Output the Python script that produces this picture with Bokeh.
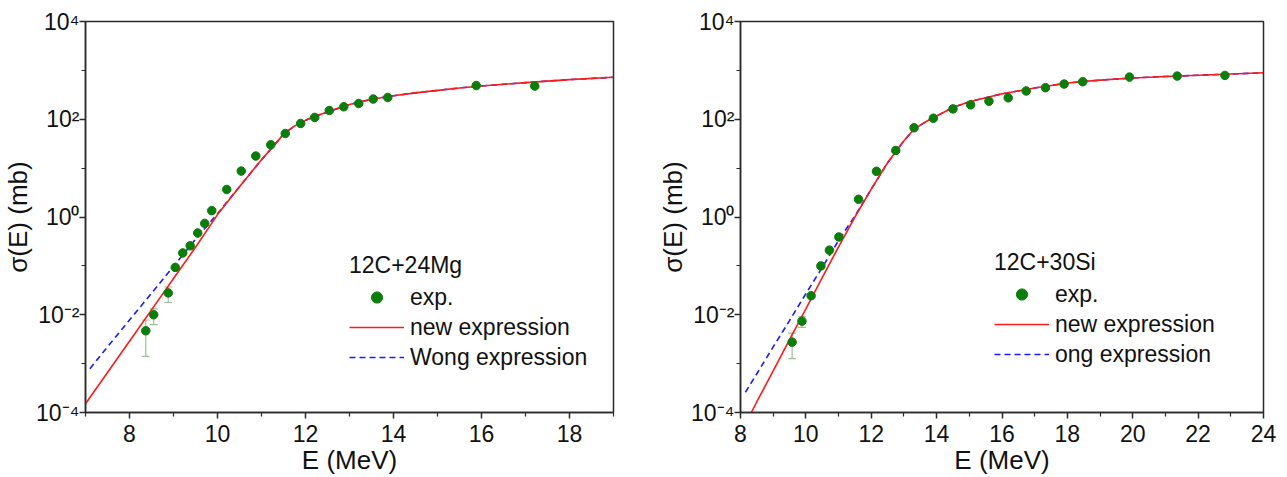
from bokeh.plotting import figure
from bokeh.models import (ColumnDataSource, Whisker, TeeHead, FixedTicker,
                          CustomJSTickFormatter, Legend, LegendItem, Range1d)
from bokeh.layouts import row
from bokeh.embed import file_html
from bokeh.resources import INLINE

# ---------------- Left panel: 12C+24Mg ----------------
mg_title = "12C+24Mg"
mg_exp_E = [8.37, 8.55, 8.88, 9.04, 9.21, 9.38, 9.55, 9.71, 9.87, 10.21, 10.54,
            10.87, 11.21, 11.54, 11.89, 12.21, 12.54, 12.87, 13.21, 13.54, 13.87,
            15.88, 17.21]
mg_exp_sigma = [4.7e-3, 1.0e-2, 2.8e-2, 0.093, 0.184, 0.257, 0.47, 0.74, 1.35, 3.66, 8.7,
                17.7, 30, 51, 82, 109, 151, 180, 210, 259, 279,
                490, 477]
mg_err_E = [8.37, 8.55, 8.88]
mg_err_hi = [7.8e-3, 1.32e-2, 3.7e-2]
mg_err_lo = [1.41e-3, 6.3e-3, 1.78e-2]
mg_new_E = [7.0, 7.5, 8.0, 8.5, 9.0, 9.5, 10.0, 10.5, 11.0, 11.25, 11.5, 11.75, 12.0,
            12.25, 12.5, 13.0, 13.5, 14.0, 14.5, 15.0, 15.5, 16.0, 17.0, 18.0, 19.0]
mg_new_sigma = [1.51e-4, 6.6e-4, 2.88e-3, 1.26e-2, 0.055, 0.24, 1.12, 4.17, 14.8, 26.9,
                49.0, 73.0, 95.0, 118, 141, 200, 257, 302, 347, 389, 437, 479, 562, 646, 724]
mg_wong_E = [7.1, 7.5, 8.0, 8.5, 9.0, 9.5, 10.0, 10.5, 11.0, 11.25, 11.5, 11.75, 12.0,
             12.25, 12.5, 13.0, 13.5, 14.0, 14.5, 15.0, 15.5, 16.0, 17.0, 18.0, 19.0]
mg_wong_sigma = [7.9e-4, 2.2e-3, 7.8e-3, 0.0275, 0.098, 0.35, 1.17, 4.17, 14.8, 26.9,
                 49.0, 73.0, 95.0, 118, 141, 200, 257, 302, 347, 389, 437, 479, 562, 646, 724]
mg_x_ticks = [8, 10, 12, 14, 16, 18]
mg_x_minor = [7, 9, 11, 13, 15, 17, 19]

# ---------------- Right panel: 12C+30Si ----------------
si_title = "12C+30Si"
si_exp_E = [9.58, 9.88, 10.16, 10.46, 10.72, 11.01, 11.61, 12.16, 12.75, 13.31, 13.90,
            14.50, 15.04, 15.60, 16.19, 16.74, 17.33, 17.90, 18.47, 19.90, 21.36, 22.82]
si_exp_sigma = [2.75e-3, 7.4e-3, 0.0245, 0.1, 0.21, 0.39, 2.3, 8.6, 23, 67, 105,
                163, 197, 234, 274, 379, 443, 525, 586, 729, 764, 789]
si_err_E = [9.58, 9.88]
si_err_hi = [4.2e-3, 9.1e-3]
si_err_lo = [1.26e-3, 5.5e-3]
si_new_E = [8.3, 8.5, 9.0, 9.5, 10.0, 10.5, 11.0, 11.5, 12.0, 12.5, 13.0, 13.25, 13.5,
            13.75, 14.0, 14.5, 15.0, 16.0, 17.0, 18.0, 19.0, 20.0, 21.0, 22.0, 23.0, 24.0]
si_new_sigma = [9.1e-5, 1.66e-4, 7.1e-4, 3.09e-3, 0.0132, 0.0575, 0.245, 1.0, 3.72, 12.9,
                36.3, 56.2, 75.9, 95.5, 117, 174, 229, 331, 437, 550, 631, 700, 750,
                794, 841, 891]
si_wong_E = [8.15, 8.5, 9.0, 9.5, 10.0, 10.5, 11.0, 11.5, 12.0, 12.5, 13.0, 13.25, 13.5,
             13.75, 14.0, 14.5, 15.0, 16.0, 17.0, 18.0, 19.0, 20.0, 21.0, 22.0, 23.0, 24.0]
si_wong_sigma = [2.6e-4, 6.2e-4, 2.2e-3, 7.6e-3, 0.027, 0.093, 0.33, 1.05, 3.72, 12.9,
                 36.3, 56.2, 75.9, 95.5, 117, 174, 229, 331, 437, 550, 631, 700, 750,
                 794, 841, 891]
si_x_ticks = [8, 10, 12, 14, 16, 18, 20, 22, 24]
si_x_minor = [9, 11, 13, 15, 17, 19, 21, 23]

y_ticks = [1e-4, 1e-2, 1, 1e2, 1e4]
y_minor = [1e-3, 1e-1, 10, 1e3]
legend_labels = ["exp.", "new expression"]
wong_labels = ["Wong expression", "ong expression"]

FONT = "Liberation Sans"
EXP_COLOR = "#0a7d0a"
NEW_COLOR = "#ff1a1a"
WONG_COLOR = "#1a1aff"
ERR_COLOR = "#9cbf9c"
AXIS_COLOR = "#2a2a2a"

sup_js = """
const m = {"-":"\u207b","0":"\u2070","1":"\u00b9","2":"\u00b2","3":"\u00b3","4":"\u2074",
           "5":"\u2075","6":"\u2076","7":"\u2077","8":"\u2078","9":"\u2079"};
const e = Math.round(Math.log10(tick));
return "10" + String(e).split("").map(c => m[c]).join("");
"""


def make_panel(width, mb_left, mb_right, mb_bottom, xr, xticks, xminor,
               exp_E, exp_s, err_E, err_lo, err_hi, new_E, new_s, wong_E, wong_s,
               title, wong_label, legend_loc):
    p = figure(width=width, height=477, x_range=Range1d(*xr), y_range=Range1d(1e-4, 1e4),
               y_axis_type="log", output_backend="svg", toolbar_location=None,
               min_border_left=mb_left, min_border_right=mb_right,
               min_border_top=21, min_border_bottom=mb_bottom)
    p.grid.visible = False
    p.outline_line_color = AXIS_COLOR
    p.outline_line_width = 1.5
    p.background_fill_color = "white"
    p.border_fill_color = "white"

    for ax in (p.xaxis[0], p.yaxis[0]):
        ax.axis_line_color = AXIS_COLOR
        ax.axis_line_width = 1.5
        ax.major_tick_line_color = AXIS_COLOR
        ax.minor_tick_line_color = AXIS_COLOR
        ax.major_tick_line_width = 1.5
        ax.minor_tick_line_width = 1.2
        ax.major_tick_in = 0
        ax.major_tick_out = 6
        ax.minor_tick_in = 0
        ax.minor_tick_out = 4
        ax.major_label_text_font = FONT
        ax.major_label_text_font_size = "23px"
        ax.major_label_text_color = "#111111"
        ax.axis_label_text_font = FONT
        ax.axis_label_text_font_size = "26px"
        ax.axis_label_text_font_style = "normal"
        ax.axis_label_text_color = "#111111"

    p.xaxis[0].ticker = FixedTicker(ticks=xticks, minor_ticks=xminor)
    p.yaxis[0].ticker = FixedTicker(ticks=y_ticks, minor_ticks=y_minor)
    p.yaxis[0].formatter = CustomJSTickFormatter(code=sup_js)
    p.xaxis[0].axis_label = "E (MeV)"
    p.yaxis[0].axis_label = "\u03c3(E) (mb)"
    p.xaxis[0].major_label_standoff = 6
    p.xaxis[0].axis_label_standoff = 0
    p.yaxis[0].major_label_standoff = 0
    p.yaxis[0].axis_label_standoff = 0

    err_src = ColumnDataSource(dict(x=err_E, lo=err_lo, hi=err_hi))
    p.add_layout(Whisker(source=err_src, base="x", lower="lo", upper="hi",
                         line_color=ERR_COLOR, line_width=1.2, level="underlay",
                         lower_head=TeeHead(size=8, line_color=ERR_COLOR, line_width=1.2),
                         upper_head=TeeHead(size=8, line_color=ERR_COLOR, line_width=1.2)))

    wong = p.line(wong_E, wong_s, line_color=WONG_COLOR, line_width=1.6, line_dash="6 4")
    new = p.line(new_E, new_s, line_color=NEW_COLOR, line_width=1.6)
    exp = p.scatter(exp_E, exp_s, size=8.5, fill_color=EXP_COLOR, line_color=EXP_COLOR)

    leg = Legend(items=[LegendItem(label=legend_labels[0], renderers=[exp]),
                        LegendItem(label=legend_labels[1], renderers=[new]),
                        LegendItem(label=wong_label, renderers=[wong])],
                 location=legend_loc, title=title,
                 title_text_font=FONT, title_text_font_size="23px",
                 title_text_font_style="normal", title_standoff=4,
                 label_text_font=FONT, label_text_font_size="23px",
                 label_text_color="#111111", title_text_color="#111111",
                 glyph_width=55, glyph_height=28, label_height=28, spacing=2,
                 padding=0, margin=0, label_standoff=6,
                 border_line_alpha=0, background_fill_alpha=0)
    p.add_layout(leg)
    return p


p1 = make_panel(655, 83, 42, 65, (7, 19), mg_x_ticks, mg_x_minor,
                mg_exp_E, mg_exp_sigma, mg_err_E, mg_err_lo, mg_err_hi,
                mg_new_E, mg_new_sigma, mg_wong_E, mg_wong_sigma,
                mg_title, wong_labels[0], (264, 41))
p2 = make_panel(632, 84, 24, 62, (8, 24), si_x_ticks, si_x_minor,
                si_exp_E, si_exp_sigma, si_err_E, si_err_lo, si_err_hi,
                si_new_E, si_new_sigma, si_wong_E, si_wong_sigma,
                si_title, wong_labels[1], (254, 44))

layout = row(p1, p2, spacing=0)
with open("out.html", "w", encoding="utf-8") as f:
    f.write(file_html(layout, INLINE))
